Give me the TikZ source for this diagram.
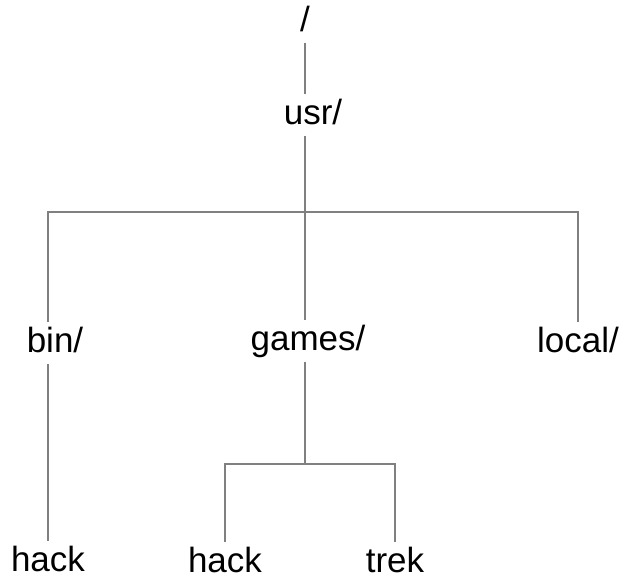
\documentclass[tikz,border=0pt]{standalone}
\usepackage{fontspec}
\setmainfont{Liberation Sans}
\usepackage{tikz}

\begin{document}
\begin{tikzpicture}[x=1pt,y=-1pt,
    dir/.style={font=\fontsize{35}{40}\selectfont, inner xsep=0pt, inner ysep=4pt,
                text height=26pt, text depth=7pt},
    branch/.style={draw=gray, line width=1.6pt}]
      \useasboundingbox (0,0) rectangle (623,586);
      \node[dir] (root)   at (305, 22)  {/};
      \node[dir] (usr)    at (313, 115) {usr/};
      \node[dir] (bin)    at (55, 343)  {bin/};
      \node[dir] (games)  at (308, 341) {games/};
      \node[dir] (local)  at (578, 343) {local/};
      \node[dir] (hackA)  at (48, 562)  {hack};
      \node[dir] (hackB)  at (225, 563) {hack};
      \node[dir] (trek)   at (395, 563) {trek};
      \coordinate (trunk)   at (305, 212);
      \coordinate (subfork) at (305, 464);
      \draw[branch] (root.south -| trunk) -- (usr.north -| trunk);
      \draw[branch] (usr.south -| trunk) -- (trunk);
      \draw[branch] (bin.north -| hackA) |- (trunk) -| (local.north);
      \draw[branch] (trunk) -- (games.north -| trunk);
      \draw[branch] (bin.south -| hackA) -- (hackA.north);
      \draw[branch] (games.south -| subfork) -- (subfork);
      \draw[branch] (hackB.north) |- (subfork) -| (trek.north);
\end{tikzpicture}
\end{document}
